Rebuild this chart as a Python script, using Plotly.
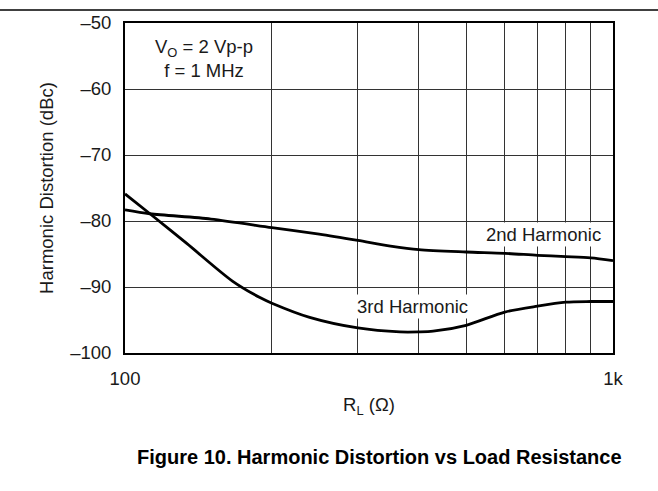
import plotly.graph_objects as go

# ---- data ----
r_2nd = [100, 112.5, 150, 200, 250, 300, 350, 400, 500, 600, 700, 800, 900, 1000]
d_2nd = [-78.3, -78.9, -79.7, -81.0, -82.0, -82.95, -83.8, -84.35, -84.7, -84.9, -85.2, -85.4, -85.6, -86.0]

r_3rd = [100, 112.5, 133.8, 166, 189, 200, 239, 300, 366, 400, 428, 500, 600, 700, 800, 900, 1000]
d_3rd = [-75.9, -78.9, -83.4, -89.1, -91.6, -92.45, -94.6, -96.2, -96.8, -96.8, -96.7, -95.8, -93.8, -92.9, -92.3, -92.2, -92.2]

y_ticks = [-100, -90, -80, -70, -60, -50]
y_tick_text = ["\u2013100", "\u201390", "\u201380", "\u201370", "\u201360", "\u201350"]
x_ticks = [100, 1000]
x_tick_text = ["100", "1k"]
x_minor = [200, 300, 400, 500, 600, 700, 800, 900]

W, H = 658, 491
L, R, T, B = 125, 45, 20, 138
PW, PH = W - L - R, H - T - B

def px(x):
    return (x - L) / PW

def py(y):
    return (H - B - y) / PH

FONT = "Liberation Sans, Arial, sans-serif"
TXT = "#1a1a1a"
FS = 18.5

fig = go.Figure()
fig.add_trace(go.Scatter(x=r_2nd, y=d_2nd, mode="lines",
                         line=dict(color="black", width=2.8, shape="spline", smoothing=0.8),
                         showlegend=False, hoverinfo="skip"))
fig.add_trace(go.Scatter(x=r_3rd, y=d_3rd, mode="lines",
                         line=dict(color="black", width=2.8, shape="spline", smoothing=0.8),
                         showlegend=False, hoverinfo="skip"))

fig.update_layout(
    width=W, height=H,
    margin=dict(l=L, r=R, t=T, b=B),
    paper_bgcolor="white", plot_bgcolor="white",
    font=dict(family=FONT, size=FS, color=TXT),
    xaxis=dict(type="log", range=[2, 3], tickvals=x_ticks, ticktext=x_tick_text,
               showgrid=False, zeroline=False, ticks="", ticklabelstandoff=8,
               showline=True, linecolor="black", linewidth=2, mirror=True,
               minor=dict(tickvals=x_minor, showgrid=True, gridcolor="#333", gridwidth=1, ticks=""),
               title=dict(text="R<sub>L</sub> (\u03a9)", standoff=10, font=dict(size=FS))),
    yaxis=dict(range=[-100, -50], tickvals=y_ticks, ticktext=y_tick_text,
               showgrid=True, gridcolor="#333", gridwidth=1, zeroline=False, ticks="",
               ticklabelstandoff=8,
               showline=True, linecolor="black", linewidth=2, mirror=True,
               title=dict(text="Harmonic Distortion (dBc)", standoff=12, font=dict(size=FS))),
)

fig.add_annotation(xref="paper", yref="paper", x=px(204), y=py(56),
                   xanchor="center", yanchor="middle",
                   text="V<sub>O</sub> = 2 Vp-p<br>f = 1 MHz", showarrow=False,
                   align="center", font=dict(size=FS), bgcolor="white")
fig.add_annotation(xref="paper", yref="paper", x=px(603), y=py(233.5),
                   xanchor="right", yanchor="middle",
                   text="2nd Harmonic", showarrow=False, font=dict(size=FS), bgcolor="white")
fig.add_annotation(xref="paper", yref="paper", x=px(412), y=py(306),
                   xanchor="center", yanchor="middle",
                   text="3rd Harmonic", showarrow=False, font=dict(size=FS), bgcolor="white")
fig.add_annotation(xref="paper", yref="paper", x=px(379), y=py(458),
                   xanchor="center", yanchor="middle",
                   text="<b>Figure 10. Harmonic Distortion vs Load Resistance</b>",
                   showarrow=False, font=dict(size=20, color="black"))

fig.add_shape(type="line", xref="paper", yref="paper", x0=px(0), x1=px(W), y0=py(7), y1=py(7),
              line=dict(color="black", width=1.5))

fig.write_html("out.html", config={"displayModeBar": False},
               post_script="document.body.style.margin='0';")
